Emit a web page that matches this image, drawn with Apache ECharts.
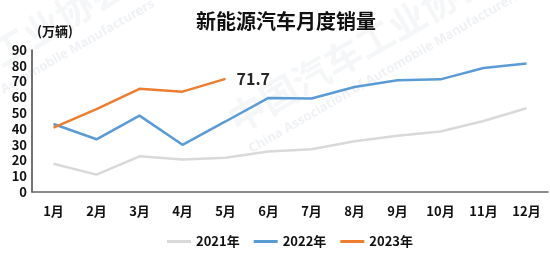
<!DOCTYPE html>
<html>
<head>
<meta charset="utf-8">
<script src="https://cdn.jsdelivr.net/npm/echarts@6/dist/echarts.min.js"></script>
<style>
html,body{margin:0;padding:0;background:#fff;}
#main{width:550px;height:269px;}
</style>
</head>
<body>
<div id="main"></div>
<script>
var months = ['1月','2月','3月','4月','5月','6月','7月','8月','9月','10月','11月','12月'];
var sales2021 = [17.9, 11.0, 22.6, 20.6, 21.7, 25.6, 27.1, 32.1, 35.7, 38.3, 45.0, 53.1];
var sales2022 = [43.1, 33.4, 48.4, 29.9, 44.7, 59.6, 59.3, 66.6, 70.8, 71.4, 78.6, 81.4];
var sales2023 = [40.8, 52.5, 65.4, 63.6, 71.7];

var font = '"Noto Sans CJK SC", sans-serif';
var myChart = echarts.init(document.getElementById('main'));
function lineSeries(name, data, color, z){
    return {
        name: name,
        type: 'line',
        data: data,
        symbol: 'none',
        z: z,
        lineStyle: {color: color, width: 2.5},
        itemStyle: {color: color}
    };
}
// 水印
function watermark(dx, dy){
    return [
        {type: 'text', x: 231 + dx, y: 122 + dy, rotation: Math.PI / 6, z: -10,
            style: {text: '中国汽车工业协会', fill: 'rgba(190,198,212,0.16)', font: 'bold 37px "Noto Sans CJK SC"', textVerticalAlign: 'middle'}},
        {type: 'text', x: 250 + dx, y: 150 + dy, rotation: Math.PI / 6, z: -10,
            style: {text: 'China Association of Automobile Manufacturers', fill: 'rgba(190,198,212,0.25)', font: 'bold 13px "Noto Sans"', textVerticalAlign: 'middle'}}
    ];
}
var s2023 = lineSeries('2023年', sales2023, '#ed7d31', 4);
s2023.endLabel = {
    show: true,
    formatter: function(p){ return p.value; },
    color: '#262626',
    fontSize: 16,
    fontWeight: 'bold',
    fontFamily: font,
    offset: [3, 0]
};
option = {
    backgroundColor: '#fff',
    textStyle: {fontFamily: font},
    title: {
        text: '新能源汽车月度销量',
        left: 191,
        top: 6,
        textStyle: {color: '#111', fontSize: 20, fontWeight: 'bold', fontFamily: font}
    },
    graphic: [
        {type: 'text', left: 37, top: 25, style: {text: '(万辆)', fill: '#111', font: 'bold 13px "Noto Sans CJK SC"'}}
    ].concat(watermark(0, 0), watermark(-365, 8)),
    legend: {
        bottom: 16,
        left: 162,
        icon: 'rect',
        itemWidth: 24,
        itemHeight: 3,
        itemGap: 14,
        textStyle: {color: '#111', fontSize: 13, fontWeight: 'bold', fontFamily: font},
        data: ['2021年', '2022年', '2023年']
    },
    grid: {left: 32, right: 2, top: 50, bottom: 77},
    xAxis: {
        type: 'category',
        data: months,
        axisLine: {lineStyle: {color: '#666', width: 1.5}},
        axisTick: {show: false},
        axisLabel: {color: '#111', fontSize: 13, fontWeight: 'bold', margin: 13, fontFamily: font}
    },
    yAxis: {
        type: 'value',
        min: 0,
        max: 90,
        interval: 10,
        axisLine: {show: true, lineStyle: {color: '#444', width: 1.5}},
        axisTick: {show: false},
        splitLine: {show: false},
        axisLabel: {color: '#111', fontSize: 13, fontWeight: 'bold', margin: 5, fontFamily: font}
    },
    series: [
        lineSeries('2021年', sales2021, '#d9d9d9', 2),
        lineSeries('2022年', sales2022, '#5b9bd5', 3),
        s2023
    ]
};
myChart.setOption(option);
</script>
</body>
</html>
